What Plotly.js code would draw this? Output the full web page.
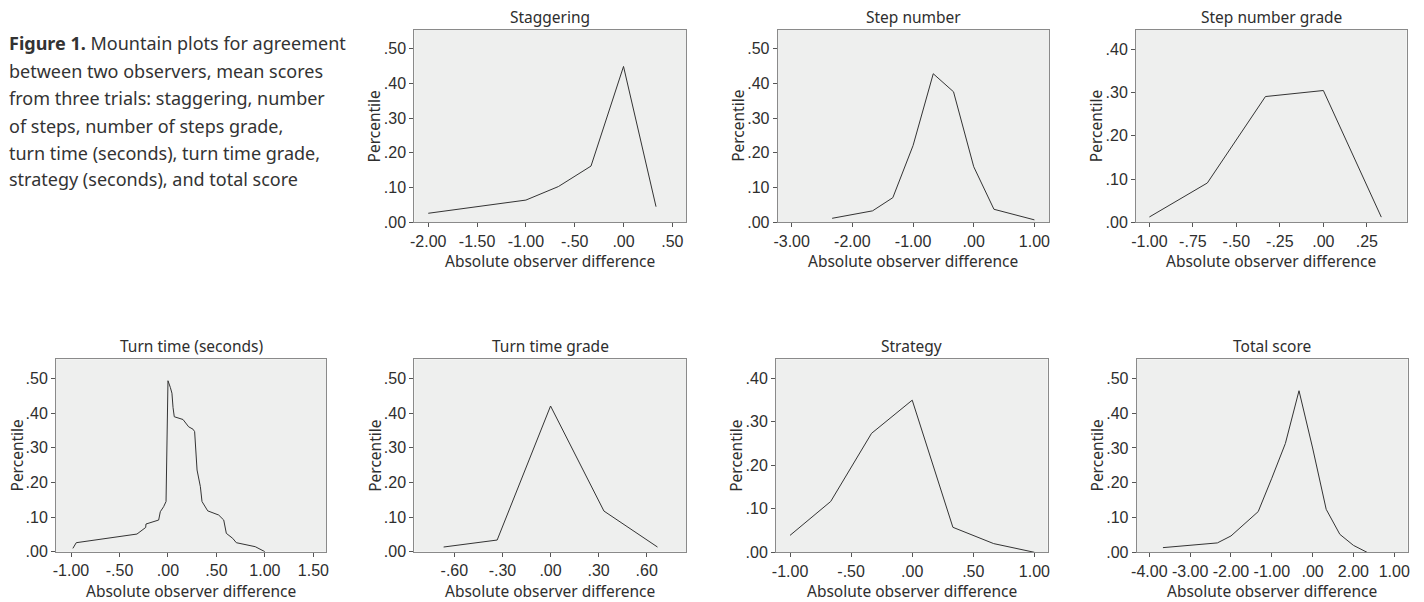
<!DOCTYPE html>
<html>
<head>
<meta charset="utf-8">
<script src="https://cdn.plot.ly/plotly-3.0.1.min.js"></script>
<style>
html,body{margin:0;padding:0;background:#fff;}
#chart{width:1424px;height:602px;}
</style>
</head>
<body>
<div id="chart"></div>
<script>
// ---------- DATA ----------
const panelTitles = ["Staggering", "Step number", "Step number grade", "Turn time (seconds)", "Turn time grade", "Strategy", "Total score"];

const staggeringX = [-2.0, -1.0, -0.667, -0.333, 0.0, 0.333];
const staggeringY = [0.026, 0.064, 0.103, 0.162, 0.449, 0.045];

const stepNumberX = [-2.333, -1.667, -1.333, -1.0, -0.667, -0.333, 0.0, 0.333, 1.0];
const stepNumberY = [0.0115, 0.033, 0.071, 0.221, 0.428, 0.376, 0.16, 0.0375, 0.007];

const stepGradeX = [-1.0, -0.667, -0.333, 0.0, 0.333];
const stepGradeY = [0.0123, 0.091, 0.291, 0.305, 0.012];

const turnTimeX = [-0.981, -0.946, -0.32, -0.258, -0.23, -0.227, -0.096, -0.079, -0.045, -0.02, 0.0, 0.024, 0.041, 0.052, 0.065, 0.155, 0.18, 0.213, 0.258, 0.275, 0.30, 0.334, 0.351, 0.41, 0.523, 0.575, 0.602, 0.668, 0.705, 0.90, 1.0];
const turnTimeY = [0.0096, 0.026, 0.051, 0.063, 0.07, 0.08, 0.0915, 0.1156, 0.13, 0.145, 0.494, 0.475, 0.458, 0.417, 0.39, 0.382, 0.373, 0.361, 0.354, 0.347, 0.236, 0.188, 0.145, 0.118, 0.106, 0.0915, 0.053, 0.0385, 0.026, 0.0145, 0.0];

const turnGradeX = [-0.667, -0.333, 0.0, 0.333, 0.667];
const turnGradeY = [0.0135, 0.0337, 0.421, 0.1175, 0.0135];

const strategyX = [-1.0, -0.667, -0.333, 0.0, 0.333, 0.667, 1.0];
const strategyY = [0.039, 0.117, 0.2736, 0.350, 0.0575, 0.02, 0.0];

const totalX = [-3.667, -2.333, -2.0, -1.333, -1.0, -0.667, -0.333, 0.0, 0.333, 0.667, 1.0, 1.333];
const totalY = [0.0134, 0.027, 0.047, 0.117, 0.213, 0.313, 0.4646, 0.30, 0.1236, 0.0517, 0.020, 0.0];

// tick values / labels
const yTicks5 = [0, 0.1, 0.2, 0.3, 0.4, 0.5];
const yLabels5 = [".00", ".10", ".20", ".30", ".40", ".50"];
const yTicks4 = [0, 0.1, 0.2, 0.3, 0.4];
const yLabels4 = [".00", ".10", ".20", ".30", ".40"];

const staggeringTicks = [-2.0, -1.5, -1.0, -0.5, 0.0, 0.5];
const staggeringLabels = ["-2.00", "-1.50", "-1.00", "-.50", ".00", ".50"];
const stepNumberTicks = [-3, -2, -1, 0, 1];
const stepNumberLabels = ["-3.00", "-2.00", "-1.00", ".00", "1.00"];
const stepGradeTicks = [-1.0, -0.75, -0.5, -0.25, 0.0, 0.25];
const stepGradeLabels = ["-1.00", "-.75", "-.50", "-.25", ".00", ".25"];
const turnTimeTicks = [-1.0, -0.5, 0.0, 0.5, 1.0, 1.5];
const turnTimeLabels = ["-1.00", "-.50", ".00", ".50", "1.00", "1.50"];
const turnGradeTicks = [-0.6, -0.3, 0.0, 0.3, 0.6];
const turnGradeLabels = ["-.60", "-.30", ".00", ".30", ".60"];
const strategyTicks = [-1.0, -0.5, 0.0, 0.5, 1.0];
const strategyLabels = ["-1.00", "-.50", ".00", ".50", "1.00"];
const totalTicks = [-4, -3, -2, -1, 0, 1, 2];
const totalLabels = ["-4.00", "-3.00", "-2.00", "-1.00", ".00", "2.00", "1.00"];

const xAxisTitle = "Absolute observer difference";
const yAxisTitle = "Percentile";
const captionBold = "Figure 1.";
const captionLines = [
  " Mountain plots for agreement",
  "between two observers, mean scores",
  "from three trials: staggering, number",
  "of steps, number of steps grade,",
  "turn time (seconds), turn time grade,",
  "strategy (seconds), and total score"
];

// ---------- LAYOUT ----------
const W = 1424, H = 602;
const px = v => v / W;
const py = v => 1 - v / H;

const series = [
  {x: staggeringX, y: staggeringY, tv: staggeringTicks, tt: staggeringLabels, yv: yTicks5, yt: yLabels5},
  {x: stepNumberX, y: stepNumberY, tv: stepNumberTicks, tt: stepNumberLabels, yv: yTicks5, yt: yLabels5},
  {x: stepGradeX, y: stepGradeY, tv: stepGradeTicks, tt: stepGradeLabels, yv: yTicks4, yt: yLabels4},
  {x: turnTimeX, y: turnTimeY, tv: turnTimeTicks, tt: turnTimeLabels, yv: yTicks5, yt: yLabels5},
  {x: turnGradeX, y: turnGradeY, tv: turnGradeTicks, tt: turnGradeLabels, yv: yTicks5, yt: yLabels5},
  {x: strategyX, y: strategyY, tv: strategyTicks, tt: strategyLabels, yv: yTicks4, yt: yLabels4},
  {x: totalX, y: totalY, tv: totalTicks, tt: totalLabels, yv: yTicks5, yt: yLabels5}
];

// box geometry in pixels: [left, right, top, bottom], axis ranges
const boxes = [
  {l: 414.3, r: 686, t: 30, b: 222.3, xr: [-2.143, 0.64], yr: [0, 0.554]},
  {l: 777.7, r: 1049, t: 30, b: 222.3, xr: [-3.23, 1.24], yr: [0, 0.554]},
  {l: 1136, r: 1406.7, t: 30, b: 222.3, xr: [-1.077, 0.479], yr: [0, 0.445]},
  {l: 56, r: 326, t: 359.3, b: 551.7, xr: [-1.155, 1.63], yr: [0, 0.556]},
  {l: 414.3, r: 686, t: 359.3, b: 551.7, xr: [-0.85, 0.845], yr: [0, 0.556]},
  {l: 776, r: 1047.7, t: 359.3, b: 552.3, xr: [-1.115, 1.109], yr: [0, 0.444]},
  {l: 1136.7, r: 1407.7, t: 359.3, b: 552.3, xr: [-4.31, 2.33], yr: [0, 0.555]}
];

const tickFont = {family: "Liberation Sans, Arial, sans-serif", size: 16, color: "#2e2e2e"};
const textFont = {family: "Noto Sans, Open Sans, sans-serif", size: 15.5, color: "#2e2e2e"};

const traces = [];
const layout = {
  width: W, height: H,
  margin: {l: 0, r: 0, t: 0, b: 0},
  paper_bgcolor: "#ffffff",
  showlegend: false,
  annotations: [],
  shapes: []
};

series.forEach((s, i) => {
  const b = boxes[i];
  const n = i + 1;
  const xa = n === 1 ? "x" : "x" + n;
  const ya = n === 1 ? "y" : "y" + n;
  traces.push({
    type: "scatter", mode: "lines", x: s.x, y: s.y,
    xaxis: xa, yaxis: ya,
    line: {color: "#333333", width: 1},
    hoverinfo: "skip"
  });
  const axCommon = {
    showgrid: false, zeroline: false, showline: true, mirror: true,
    linecolor: "#8a8a8a", linewidth: 1,
    ticks: "outside", ticklen: 4, tickcolor: "#555", tickwidth: 1,
    tickfont: tickFont, fixedrange: true
  };
  layout["xaxis" + (n === 1 ? "" : n)] = Object.assign({}, axCommon, {
    domain: [px(b.l), px(b.r)], anchor: ya, range: b.xr,
    tickmode: "array", tickvals: s.tv, ticktext: s.tt
  });
  layout["yaxis" + (n === 1 ? "" : n)] = Object.assign({}, axCommon, {
    domain: [py(b.b), py(b.t)], anchor: xa, range: b.yr,
    tickmode: "array", tickvals: s.yv, ticktext: s.yt
  });
  layout.shapes.push({
    type: "rect", xref: "paper", yref: "paper", layer: "below",
    x0: px(b.l), x1: px(b.r), y0: py(b.b), y1: py(b.t),
    fillcolor: "#eeefee", line: {width: 0}
  });
  const cx = (b.l + b.r) / 2;
  layout.annotations.push({
    text: panelTitles[i], xref: "paper", yref: "paper",
    x: px(cx), y: py(b.t - 13), xanchor: "center", yanchor: "middle",
    showarrow: false, font: textFont
  });
  layout.annotations.push({
    text: xAxisTitle, xref: "paper", yref: "paper",
    x: px(cx), y: py(b.b + 39), xanchor: "center", yanchor: "middle",
    showarrow: false, font: textFont
  });
  layout.annotations.push({
    text: yAxisTitle, xref: "paper", yref: "paper",
    x: px(b.l - 40), y: py((b.t + b.b) / 2), xanchor: "center", yanchor: "middle",
    textangle: -90, showarrow: false, font: textFont
  });
});

// caption
const capFont = {family: "Noto Sans, Open Sans, sans-serif", size: 18, color: "#333"};
const capY = [43, 71, 98, 126, 153, 179];
captionLines.forEach((line, k) => {
  const txt = k === 0 ? "<b>" + captionBold + "</b>" + line : line;
  layout.annotations.push({
    text: txt, xref: "paper", yref: "paper",
    x: px(7), y: py(capY[k]), xanchor: "left", yanchor: "middle",
    showarrow: false, font: capFont, align: "left"
  });
});

Plotly.newPlot("chart", traces, layout, {displayModeBar: false, staticPlot: true});
</script>
</body>
</html>
